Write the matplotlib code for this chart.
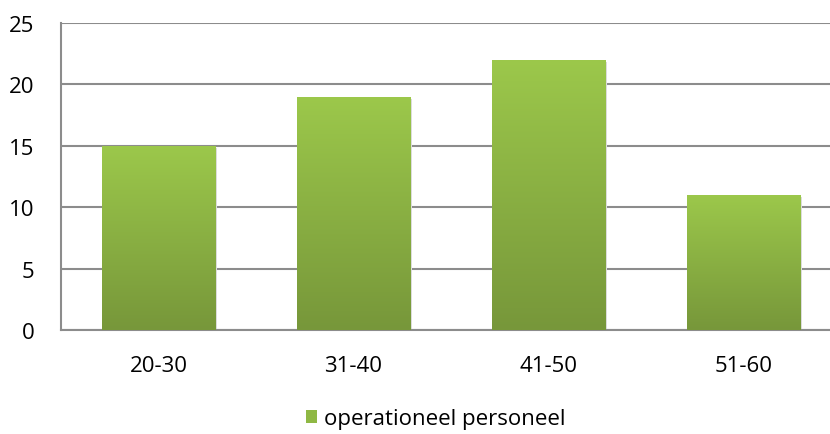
import numpy as np
import matplotlib.pyplot as plt
from matplotlib.patches import Rectangle
from matplotlib.colors import LinearSegmentedColormap

# data
categories = ['20-30', '31-40', '41-50', '51-60']
values = [15, 19, 22, 11]
series_name = 'operationeel personeel'

plt.rcParams['font.family'] = ['Open Sans', 'DejaVu Sans']

fig = plt.figure(figsize=[8.3, 4.35], dpi=100)
# plot area runs a little past the right edge of the picture
ax = fig.add_axes([61/830, (435-331)/435, (841-61)/830, (331-24)/435])

grad = LinearSegmentedColormap.from_list('g', ['#77973a', '#9cc84b'])
x = np.arange(len(categories))
w = 0.58
bars = ax.bar(x, values, width=w, color='none', zorder=3)
for b in bars:
    x0, y0 = b.get_x(), b.get_y()
    bw, bh = b.get_width(), b.get_height()
    # soft shadow
    ax.add_patch(Rectangle((x0 + 0.012, y0 - 0.15), bw, bh, color='#dcdcdc', zorder=2, lw=0))
    img = ax.imshow(np.linspace(0, 1, 256).reshape(-1, 1), cmap=grad, aspect='auto',
                    extent=[x0, x0 + bw, y0, y0 + bh], origin='lower', zorder=3)
    img.set_clip_path(b)

ax.set_xlim(-0.5, len(categories) - 0.5)
ax.set_ylim(0, 25)
ax.set_yticks(range(0, 26, 5))
ax.set_xticks(x)
ax.set_xticklabels(categories)
ax.yaxis.grid(True, color='#8c8c8c', lw=1.5)
ax.set_axisbelow(True)
for s in ['top', 'right']:
    ax.spines[s].set_visible(False)
ax.spines['left'].set_color('#8c8c8c')
ax.spines['bottom'].set_color('#8c8c8c')
ax.spines['left'].set_linewidth(1.5)
ax.spines['bottom'].set_linewidth(1.5)
ax.tick_params(axis='both', length=0, labelsize=16, colors='black')
ax.tick_params(axis='y', pad=19)
ax.tick_params(axis='x', pad=18)

handle = Rectangle((0, 0), 1, 1, facecolor='#8fb844', edgecolor='none')
fig.legend([handle], [series_name], loc='center', bbox_to_anchor=(436/830, 1 - 420/435),
           frameon=False, fontsize=16, handlelength=0.5, handleheight=0.5, handletextpad=0.3)

fig.savefig('out.png', dpi=100)
